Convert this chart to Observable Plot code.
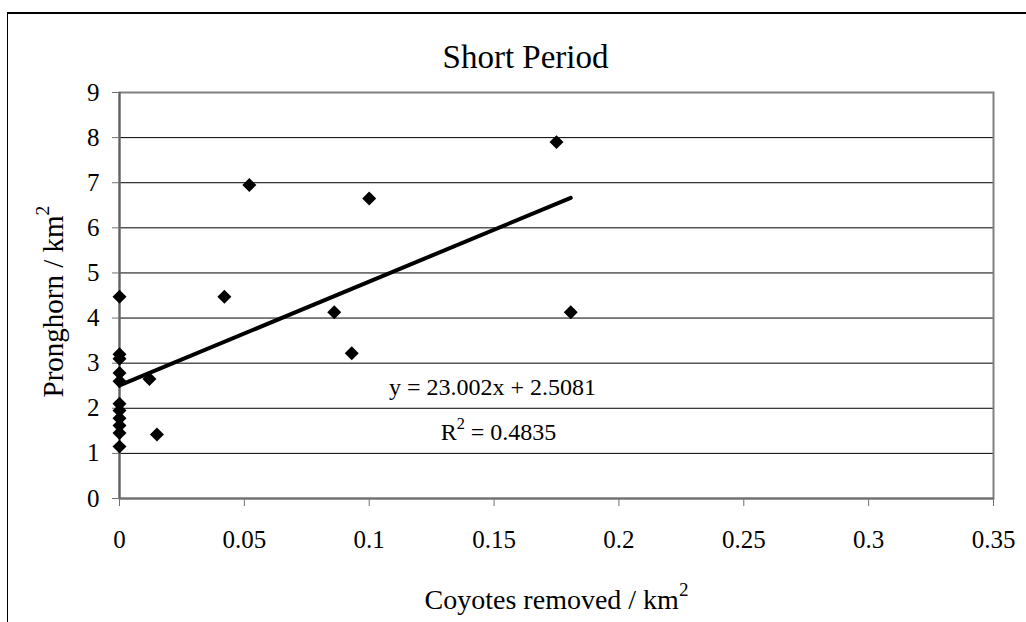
<!DOCTYPE html>
<html>
<head>
<meta charset="utf-8">
<script src="https://cdn.jsdelivr.net/npm/d3@7"></script>
<script src="https://cdn.jsdelivr.net/npm/@observablehq/plot@0.6"></script>
<style>
  html, body { margin: 0; padding: 0; background: #fff; overflow: hidden; }
  #wrap { position: relative; width: 1026px; height: 622px; overflow: hidden; }
  #border { position: absolute; left: 7px; top: 12px; width: 1100px; height: 700px;
            border-top: 2px solid #000; border-left: 1px solid #000; box-sizing: border-box; }
  #chart { position: absolute; left: 0; top: 0; }
  #chart svg, #chart svg text, #chart svg g { font-family: "Liberation Serif", "Times New Roman", serif !important; font-variant: normal !important; }
</style>
</head>
<body>
<div id="wrap"><div id="border"></div><div id="chart"></div></div>
<script>
// Data
const coyotes   = [0, 0, 0, 0, 0, 0, 0, 0, 0, 0, 0, 0.012, 0.015, 0.042, 0.052, 0.086, 0.093, 0.1, 0.175, 0.1807];
const pronghorn = [4.47, 3.2, 3.1, 2.78, 2.6, 2.1, 1.95, 1.78, 1.62, 1.45, 1.15, 2.65, 1.42, 4.47, 6.95, 4.13, 3.22, 6.65, 7.9, 4.13];
const slope = 23.002;
const intercept = 2.5081;
const rSquared = 0.4835;
const xTicks = [0, 0.05, 0.1, 0.15, 0.2, 0.25, 0.3, 0.35];
const yTicks = [0, 1, 2, 3, 4, 5, 6, 7, 8, 9];
const titleText = "Short Period";
const xLabel = "Coyotes removed / km\u00B2";
const yLabel = "Pronghorn / km\u00B2";

const points = coyotes.map((c, i) => ({x: c, y: pronghorn[i]}));
const xMax = d3.max(coyotes);
const trend = [0, xMax].map(x => ({x, y: slope * x + intercept}));
const eq1 = `y = ${slope.toFixed(3)}x + ${intercept}`;
const eq2 = `R\u00B2 = ${rSquared}`;

const font = "Liberation Serif";

const chart = Plot.plot({
  width: 1026,
  height: 622,
  marginLeft: 119,
  marginRight: 33,
  marginTop: 92,
  marginBottom: 124,
  x: {domain: [0, 0.35]},
  y: {domain: [0, 9]},
  style: {fontFamily: font, fontSize: "25px", color: "#000", background: "transparent", overflow: "visible"},
  marks: [
    Plot.gridY(yTicks.slice(1, -1), {stroke: "#000", strokeOpacity: 1, strokeWidth: 1}),
    Plot.frame({stroke: "#808080", strokeWidth: 2}),
    Plot.ruleY([0], {stroke: "#707070", strokeWidth: 2}),
    Plot.ruleX([0], {stroke: "#606060", strokeWidth: 2}),
    Plot.axisX({ticks: xTicks, tickSize: 8, tickPadding: 24, tickFormat: d => String(d),
                label: null, stroke: "#707070", fontSize: 25, fontFamily: font}),
    Plot.axisY({ticks: yTicks, tickSize: 7, tickPadding: 13, tickFormat: d => String(d),
                label: null, stroke: "#707070", fontSize: 25, fontFamily: font}),
    Plot.line(trend, {x: "x", y: "y", stroke: "#000", strokeWidth: 4, strokeLinecap: "round"}),
    Plot.dot(points, {x: "x", y: "y", symbol: "diamond2", r: 6.3, fill: "#000", stroke: "none"}),
    Plot.text([eq1], {text: d => d, frameAnchor: "top-left", dx: 373, dy: 295, fontSize: 24, fontFamily: font, textAnchor: "middle", lineAnchor: "middle"}),
    Plot.text([eq2], {text: d => d, frameAnchor: "top-left", dx: 379, dy: 340, fontSize: 24, fontFamily: font, textAnchor: "middle", lineAnchor: "middle"}),
    Plot.text([titleText], {text: d => d, frameAnchor: "top-left", dx: 406, dy: -35, fontSize: 33, fontFamily: font, textAnchor: "middle", lineAnchor: "middle"}),
    Plot.text([xLabel], {text: d => d, frameAnchor: "bottom", dy: 102, fontSize: 28, fontFamily: font, textAnchor: "middle", lineAnchor: "middle"}),
    Plot.text([yLabel], {text: d => d, frameAnchor: "left", dx: -66, dy: 6, fontSize: 29, fontFamily: font, rotate: -90, textAnchor: "middle", lineAnchor: "middle"})
  ]
});
document.getElementById("chart").appendChild(chart);

// Render "²" as a raised superscript like the reference
const NS = "http://www.w3.org/2000/svg";
chart.querySelectorAll("text").forEach(t => {
  const s = t.textContent;
  const i = s.indexOf("\u00B2");
  if (i < 0 || t.children.length > 0) return;
  const fs = parseFloat(getComputedStyle(t).fontSize) || 24;
  const baseDy = t.getAttribute("dy");
  t.textContent = "";
  const a = document.createElementNS(NS, "tspan");
  a.textContent = s.slice(0, i);
  if (baseDy) a.setAttribute("dy", baseDy);
  const b = document.createElementNS(NS, "tspan");
  b.textContent = "2";
  b.setAttribute("dy", String(-0.48 * fs));
  b.setAttribute("font-size", String(0.68 * fs));
  t.appendChild(a); t.appendChild(b);
  const rest = s.slice(i + 1);
  if (rest) {
    const c = document.createElementNS(NS, "tspan");
    c.textContent = rest;
    c.setAttribute("dy", String(0.48 * fs));
    t.appendChild(c);
  }
});
</script>
</body>
</html>
